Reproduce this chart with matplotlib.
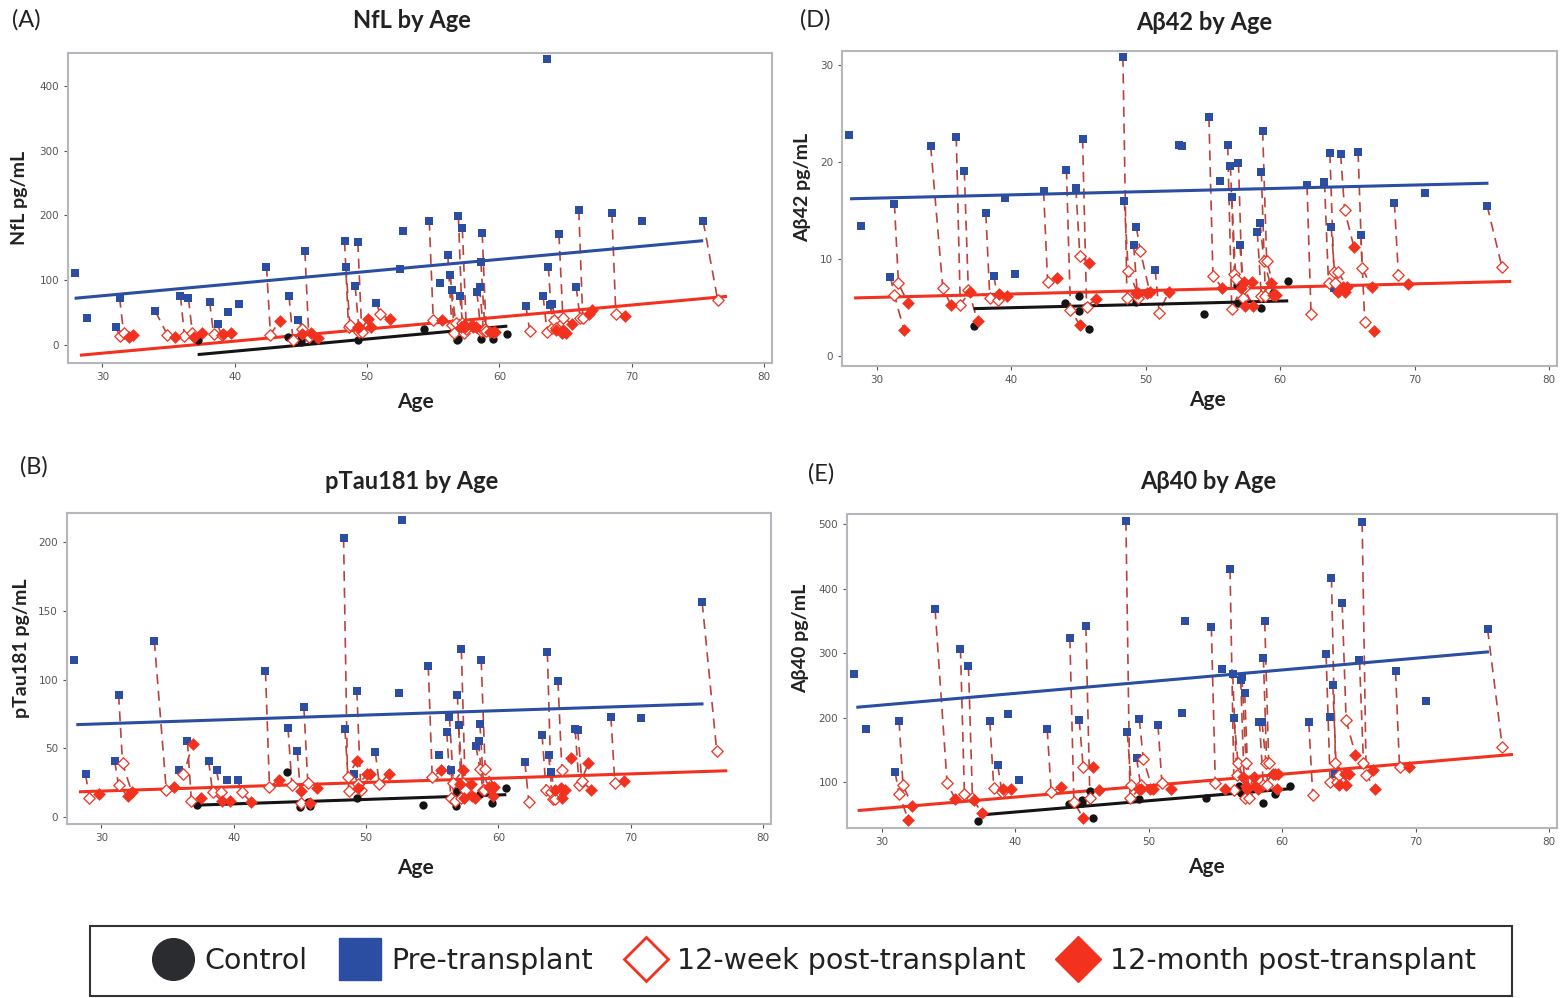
import numpy as np
import matplotlib.pyplot as plt
from matplotlib.lines import Line2D
from matplotlib.patches import Rectangle

nan = np.nan

# ==============================================================================
# Data
# ==============================================================================

# age at pre-transplant visit, one entry per patient
ages = [27.9, 28.8, 31.0, 31.3, 34.0, 35.9, 36.5, 38.1, 38.7, 39.5,
        40.3, 42.4, 44.1, 44.8, 45.3, 48.3, 48.4, 49.1, 49.3, 50.7,
        52.5, 52.7, 54.7, 55.5, 56.1, 56.3, 56.4, 56.9, 57.0, 57.2,
        58.3, 58.5, 58.6, 58.7, 62.0, 63.3, 63.7, 63.8, 64.0, 64.5,
        65.8, 66.0, 68.5, 70.8, 75.4, 63.6]
# years after the pre-transplant visit for the 12-week / 12-month visits
wk12_gap = 0.3
mo12_gap = 1.0
late_gaps = {4: (0.9, 1.5), 44: (1.1, 1.1)}

ctrl_ages = [37.2, 44.0, 45.0, 45.0, 45.6, 45.8, 49.3, 54.3, 56.8, 56.9, 58.6, 59.5, 60.6]

# --- NfL ---
nfl_pre = [111, 41, 28, 73, 52, 76, 72, 67, 32, 51,
           63, 121, 76, 38, 145, 160, 121, 91, 159, 65,
           118, 176, 192, 95, 139, 108, 85, 199, 76, 180,
           82, 89, 128, 173, 60, 76, 121, 62, 63, 171,
           90, 208, 204, 191, 191, 442]
nfl_wk12 = [nan, nan, 14, 19, 16, 14, 18, 17, 15, nan,
            nan, 16, 8, 25, 12, 27, 30, 20, 20, 47,
            nan, nan, 39, nan, 31, 18, 34, 34, 18, 25,
            21, 21, 25, 21, 21, 20, 26, 39, 26, 41,
            41, 41, 47, nan, 69, nan]
nfl_mo12 = [nan, nan, 12, 15, 12, 12, 19, 17, 18, nan,
            nan, 37, 17, 19, 11, 28, 28, 40, 28, 40,
            nan, nan, 39, nan, 27, 30, 28, 30, 27, 28,
            20, 20, 20, 20, nan, 23, 19, 23, 19, 33,
            47, 54, 45, nan, nan, nan]
nfl_ctrl = [8, 12, 9, 4, 10, 7, 8, 24, 7, 9, 9, 9, 17]
nfl_fit_pre = [27.9, 72, 75.4, 161]
nfl_fit_post = [28.3, -16, 77.2, 75]
nfl_fit_ctrl = [37.2, -15, 60.6, 29]

# --- pTau181 ---
ptau_pre = [114, 31, 41, 89, 128, 34, 55, 41, 34, 27,
            27, 106, 65, 48, 80, 203, 64, 31, 92, 47,
            90, 216, 110, 45, 62, 73, 34, 89, 67, 122,
            52, 55, 68, 114, 40, 60, 120, 45, 33, 99,
            64, 63, 73, 72, 156, nan]
ptau_wk12 = [nan, 14, 23, 39, 20, 31, 12, 18, 18, nan,
             18, 22, 23, 10, 25, 29, 19, 24, 20, 24,
             nan, nan, 29, nan, 14, 25, 12, 14, 25, 20,
             35, 20, 20, 35, 11, 20, 18, 13, 13, 34,
             23, 26, 25, nan, 48, nan]
ptau_mo12 = [nan, 17, 15, 18, 22, 53, 14, 12, 12, nan,
             11, 27, 19, 10, 21, 41, 21, 31, 31, 31,
             nan, nan, 34, nan, 24, 34, 14, 24, 15, 14,
             22, 22, 15, 22, nan, 20, 21, 14, 20, 43,
             39, 20, 26, nan, nan, nan]
ptau_ctrl = [9, 33, 7, 10, 11, 8, 14, 9, 8, 19, 17, 10, 21]
ptau_fit_pre = [28.1, 67.2, 75.5, 82.3]
ptau_fit_post = [28.3, 18.4, 77.3, 33.7]
ptau_fit_ctrl = [37.2, 8.7, 60.6, 16.3]

# --- Abeta42 ---
ab42_pre = [22.8, 13.4, 8.2, 15.7, 21.6, 22.6, 19.1, 14.7, 8.3, 16.3,
            8.5, 17.0, 19.2, 17.3, 22.4, 30.8, 16.0, 11.4, 13.3, 8.9,
            21.7, 21.6, 24.6, 18.0, 21.7, 19.6, 16.4, 19.9, 11.4, nan,
            12.8, 13.7, 19.0, 23.2, 17.6, 17.9, 20.9, 13.3, 7.0, 20.8,
            21.0, 12.5, 15.8, 16.8, 15.5, nan]
ab42_wk12 = [nan, nan, 6.3, 7.5, 7.0, 5.3, 6.8, 6.0, 5.8, nan,
             nan, 7.6, 4.8, 10.3, 5.1, 6.0, 8.8, 6.0, 10.8, 4.5,
             nan, nan, 8.3, nan, 4.9, 8.5, 7.9, 6.0, 7.0, nan,
             6.2, 9.8, 6.2, 9.8, 4.3, 7.5, 8.7, 7.5, 8.7, 15.0,
             9.1, 3.5, 8.4, nan, 9.2, nan]
ab42_mo12 = [nan, nan, 2.75, 5.5, 5.3, 6.6, 3.6, 6.4, 6.2, nan,
             nan, 8.1, 3.2, 9.6, 5.9, 6.5, 6.5, 6.5, 6.6, 6.6,
             nan, nan, 7.0, nan, 7.0, 7.6, 5.2, 7.6, 5.2, nan,
             7.5, 6.3, 6.3, 6.3, nan, 6.6, 7.1, 6.6, 7.1, 11.2,
             7.1, 2.6, 7.4, nan, nan, nan]
ab42_ctrl = [3.1, 5.5, 6.2, 4.7, 5.2, 2.8, 5.6, 4.4, 7.3, 5.5, 5.0, 6.5, 7.7]
ab42_fit_pre = [28.0, 16.2, 75.5, 17.8]
ab42_fit_post = [28.3, 6.0, 77.2, 7.7]
ab42_fit_ctrl = [37.2, 4.9, 60.6, 5.7]

# --- Abeta40 ---
ab40_pre = [267, 183, 116, 195, 368, 307, 280, 195, 126, 205,
            103, 182, 323, 196, 342, 505, 177, 138, 198, 189,
            207, 349, 341, 276, 430, 267, 199, 259, 263, 238,
            194, 193, 293, 349, 193, 298, 417, 251, 113, 378,
            289, 503, 272, 225, 337, 201]
ab40_wk12 = [nan, nan, 82, 95, 99, 82, 75, 91, 85, nan,
             nan, 85, 70, 123, 75, 75, 95, 95, 136, 98,
             nan, nan, 98, nan, 88, 111, 129, 76, 129, 76,
             95, 129, 95, 129, 80, 100, 129, 100, 111, 196,
             129, 111, 124, nan, 155, nan]
ab40_mo12 = [nan, nan, 41, 63, 74, 72, 52, 90, 90, nan,
             nan, 92, 44, 123, 88, 89, 89, 89, 89, 89,
             nan, nan, 89, nan, 108, 94, 89, 108, 94, 89,
             112, 112, 89, 112, nan, 96, 112, 96, 112, 142,
             119, 90, 124, nan, nan, nan]
ab40_ctrl = [40, 66, 72, 68, 87, 45, 74, 75, 94, 84, 68, 82, 94]
ab40_fit_pre = [28.1, 216, 75.5, 302]
ab40_fit_post = [28.2, 56, 77.3, 143]
ab40_fit_ctrl = [37.3, 49, 60.7, 90]

# ==============================================================================
# Styling
# ==============================================================================

W, H = 1566, 998
BLUE = '#2b4ea2'
RED = '#f2311f'
DASH = '#b8433c'
BLACK = '#141414'
FONT = 'Lato'


def fx(px):
    return px / W


def fy(py):
    return 1 - py / H


def draw_panel(rect, pre, wk12, mo12, ctrl, fits, ylim, yticks):
    left, top, right, bottom = rect
    ax = fig.add_axes([fx(left), fy(bottom), fx(right - left), (bottom - top) / H])

    # dashed connectors pre -> 12 weeks -> 12 months
    x_wk, x_mo = [], []
    for i, age in enumerate(ages):
        g_wk, g_mo = late_gaps.get(i, (wk12_gap, mo12_gap))
        x_wk.append(age + g_wk)
        x_mo.append(age + g_mo)
        xs = np.array([age, age + g_wk, age + g_mo])
        ys = np.array([pre[i], wk12[i], mo12[i]], dtype=float)
        ok = ~np.isnan(ys)
        if ok.sum() > 1:
            ax.plot(xs[ok], ys[ok], color=DASH, lw=1.2, dashes=(6, 4), zorder=1)

    fit_pre, fit_post, fit_ctrl = fits
    for f, c in [(fit_pre, BLUE), (fit_post, RED), (fit_ctrl, BLACK)]:
        ax.plot([f[0], f[2]], [f[1], f[3]], color=c, lw=2.2, zorder=2,
                solid_capstyle='butt')

    ax.scatter(ctrl_ages, ctrl, marker='o', s=36, color=BLACK, zorder=3, lw=0)
    ax.scatter(ages, pre, marker='s', s=38, color=BLUE, zorder=3, lw=0)
    ax.scatter(x_wk, wk12, marker='D', s=34, facecolor='white', edgecolor=RED,
               lw=0.9, zorder=3)
    ax.scatter(x_mo, mo12, marker='D', s=42, color=RED, zorder=4, lw=0)

    ax.set_xlim(27.4, 80.6)
    ax.set_ylim(*ylim)
    ax.set_xticks([30, 40, 50, 60, 70, 80])
    ax.set_yticks(yticks)
    ax.tick_params(labelsize=7.5, colors='#555555', length=3, width=0.8)
    for sp in ax.spines.values():
        sp.set_color('#b4b8bc')
        sp.set_linewidth(1.5)
    return ax


fig = plt.figure(figsize=(W / 100, H / 100), dpi=100)

draw_panel((68, 53, 772, 363), nfl_pre, nfl_wk12, nfl_mo12, nfl_ctrl,
           (nfl_fit_pre, nfl_fit_post, nfl_fit_ctrl), (-28, 451), [0, 100, 200, 300, 400])
draw_panel((842, 51, 1557, 366), ab42_pre, ab42_wk12, ab42_mo12, ab42_ctrl,
           (ab42_fit_pre, ab42_fit_post, ab42_fit_ctrl), (-1.0, 31.4), [0, 10, 20, 30])
draw_panel((67, 513, 771, 824), ptau_pre, ptau_wk12, ptau_mo12, ptau_ctrl,
           (ptau_fit_pre, ptau_fit_post, ptau_fit_ctrl), (-5, 221), [0, 50, 100, 150, 200])
draw_panel((847, 514, 1557, 828), ab40_pre, ab40_wk12, ab40_mo12, ab40_ctrl,
           (ab40_fit_pre, ab40_fit_post, ab40_fit_ctrl), (29, 515.5), [100, 200, 300, 400, 500])

# titles, axis labels and panel letters
titles = [('NfL by Age', 412, 20), ('A\u03b242 by Age', 1204, 23),
          ('pTau181 by Age', 412, 482), ('A\u03b240 by Age', 1208, 482)]
for t, x, y in titles:
    fig.text(fx(x), fy(y), t, ha='center', va='center', fontsize=17,
             fontweight='bold', family=FONT, color='#222222')

for x, y in [(415, 402), (1207, 400), (415, 868), (1206, 867)]:
    fig.text(fx(x), fy(y), 'Age', ha='center', va='center', fontsize=15,
             fontweight='bold', family=FONT, color='#222222')

ylabels = [('NfL pg/mL', 20, 198), ('A\u03b242 pg/mL', 803, 187),
           ('pTau181 pg/mL', 22, 648), ('A\u03b240 pg/mL', 801, 638)]
for t, x, y in ylabels:
    fig.text(fx(x), fy(y), t, ha='center', va='center', rotation=90,
             fontsize=14, fontweight='bold', family=FONT, color='#222222')

for t, x, y in [('(A)', 12, 20), ('(D)', 800, 20), ('(B)', 20, 467), ('(E)', 808, 474)]:
    fig.text(fx(x), fy(y), t, ha='left', va='center', fontsize=17,
             family=FONT, color='#222222')

# legend
handles = [
    Line2D([], [], ls='none', marker='o', ms=30, color='#2a2c30'),
    Line2D([], [], ls='none', marker='s', ms=30, color=BLUE),
    Line2D([], [], ls='none', marker='D', ms=22, mfc='white', mec=RED, mew=2),
    Line2D([], [], ls='none', marker='D', ms=23, color=RED),
]
labels = ['Control', 'Pre-transplant', '12-week post-transplant', '12-month post-transplant']
fig.legend(handles, labels, ncol=4, loc='center', bbox_to_anchor=(fx(813), fy(961)),
           frameon=False, prop={'family': 'DejaVu Sans', 'size': 20.5},
           handlelength=1.6, handletextpad=0.3, columnspacing=1.05,
           labelcolor='#222222')
fig.patches.append(Rectangle((fx(90), fy(996)), fx(1512 - 90), (996 - 926) / H,
                             transform=fig.transFigure, fill=False,
                             edgecolor='#333333', lw=1.5))

fig.savefig('out.png', dpi=100)
